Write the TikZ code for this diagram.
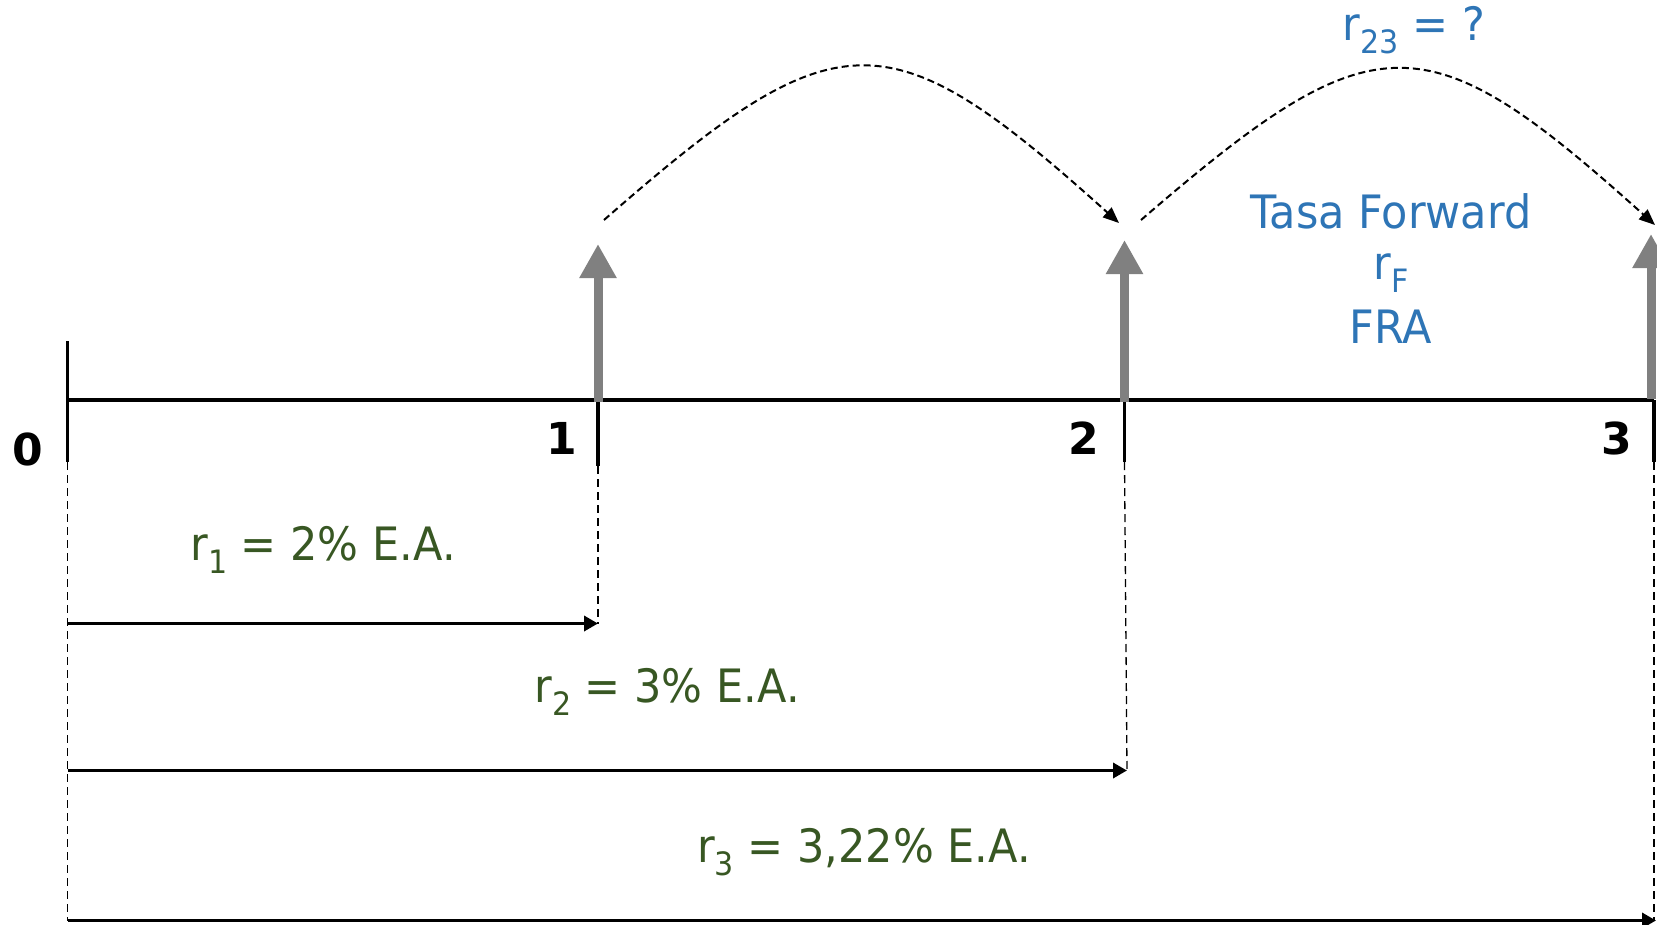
\documentclass[tikz,border=0pt]{standalone}
\usepackage{fontspec}
\setmainfont{DejaVu Sans}
\newfontfamily\lab[FakeStretch=0.935]{DejaVu Sans}
\usetikzlibrary{arrows.meta}
\definecolor{txtgreen}{RGB}{56,87,35}
\definecolor{txtblue}{RGB}{46,117,182}
\definecolor{arrgray}{RGB}{128,128,128}
\newcommand\subtx[1]{\raisebox{-0.28em}{\scalebox{0.7}{#1}}}
\tikzset{
  axisline/.style={line width=3.3pt},
  guide/.style={line width=1.3pt, dash pattern=on 8pt off 5pt},
  span/.style={line width=3.8pt, -{Triangle[length=14pt,width=15pt]}},
  flow/.style={draw=arrgray, line width=9pt, -{Triangle[length=34pt,width=35pt]}},
  hop/.style={line width=2pt, dash pattern=on 7pt off 4pt, -{Triangle[length=16pt,width=13pt]}},
  num/.style={font=\fontsize{44}{50}\selectfont\bfseries, inner sep=0pt},
  grn/.style={text=txtgreen, font=\lab\fontsize{46}{52}\selectfont, inner sep=0pt},
  blu/.style={text=txtblue, font=\lab\fontsize{46}{52}\selectfont, inner sep=0pt}
}
\begin{document}
\begin{tikzpicture}[x=1pt,y=-1pt]
\useasboundingbox (0,0) rectangle (1657,924);
\clip (0,0) rectangle (1657,924);
% axis points
\coordinate (a0) at (67.6,400);
\coordinate (a1) at (598,400);
\coordinate (a2) at (1124.5,400);
\coordinate (a3) at (1654,400);
\coordinate (top0) at (67.6,341);
\coordinate (b0) at (67.6,462);
\coordinate (b1) at (598,466);
\coordinate (b2) at (1124.5,462);
\coordinate (b3) at (1654,462);
% main axis and ticks
\draw[axisline] (a0) -- (a3);
\draw[axisline] (top0) -- (b0);
\draw[axisline] (a1) -- (b1);
\draw[axisline] (a2) -- (b2);
\draw[axisline] (a3) -- (b3);
% tick labels
\node[num] (n0) at (27.5,449) {0};
\node[num] (n1) at (562,438.5) {1};
\node[num] (n2) at (1084,438.5) {2};
\node[num] (n3) at (1617,438.5) {3};
% gray cash-flow arrows
\coordinate (g1) at (598,244);
\coordinate (g2) at (1124.5,240);
\coordinate (g3) at (1651,234);
\draw[flow] ([yshift=-1.5pt]a1) -- (g1);
\draw[flow] ([yshift=-1.5pt]a2) -- (g2);
\draw[flow] (1651,398.5) -- (g3);
% dashed hops
\coordinate (h1s) at (604,220);
\coordinate (h1e) at (1119,223);
\coordinate (h2s) at (1141,220);
\coordinate (h2e) at (1655,225);
\draw[hop] (h1s) .. controls (838,15) and (888,15) .. (h1e);
\draw[hop] (h2s) .. controls (1375,18) and (1425,18) .. (h2e);
% blue labels
\node[blu] (r23) at (1414,30) {r\subtx{23} = ?};
\node[blu] (tf) at (1391,211) {Tasa Forward};
\node[blu] (rf) at (1391,273) {r\subtx{F}};
\node[blu] (fra) at (1391,327) {FRA};
% dashed guides
\coordinate (d0) at (67.6,921);
\coordinate (d1) at (598,623.5);
\coordinate (d2) at (1127,770.5);
\coordinate (d3) at (1654,921);
\draw[guide] (b0) -- (d0);
\draw[guide] (b1) -- (d1);
\draw[guide] (b2) -- (d2);
\draw[guide] (b3) -- (d3);
% span arrows
\coordinate (s1) at (67.6,623.5);
\coordinate (s2) at (67.6,770.5);
\coordinate (s3) at (67.6,920.5);
\draw[span] (s1) -- (d1);
\draw[span] (s2) -- (d2);
\draw[span] (s3) -- (1656,920.5);
% green labels
\node[grn] (l1) at (323,550) {r\subtx{1} = 2\% E.A.};
\node[grn] (l2) at (667,692) {r\subtx{2} = 3\% E.A.};
\node[grn] (l3) at (864,852) {r\subtx{3} = 3,22\% E.A.};
\end{tikzpicture}
\end{document}
